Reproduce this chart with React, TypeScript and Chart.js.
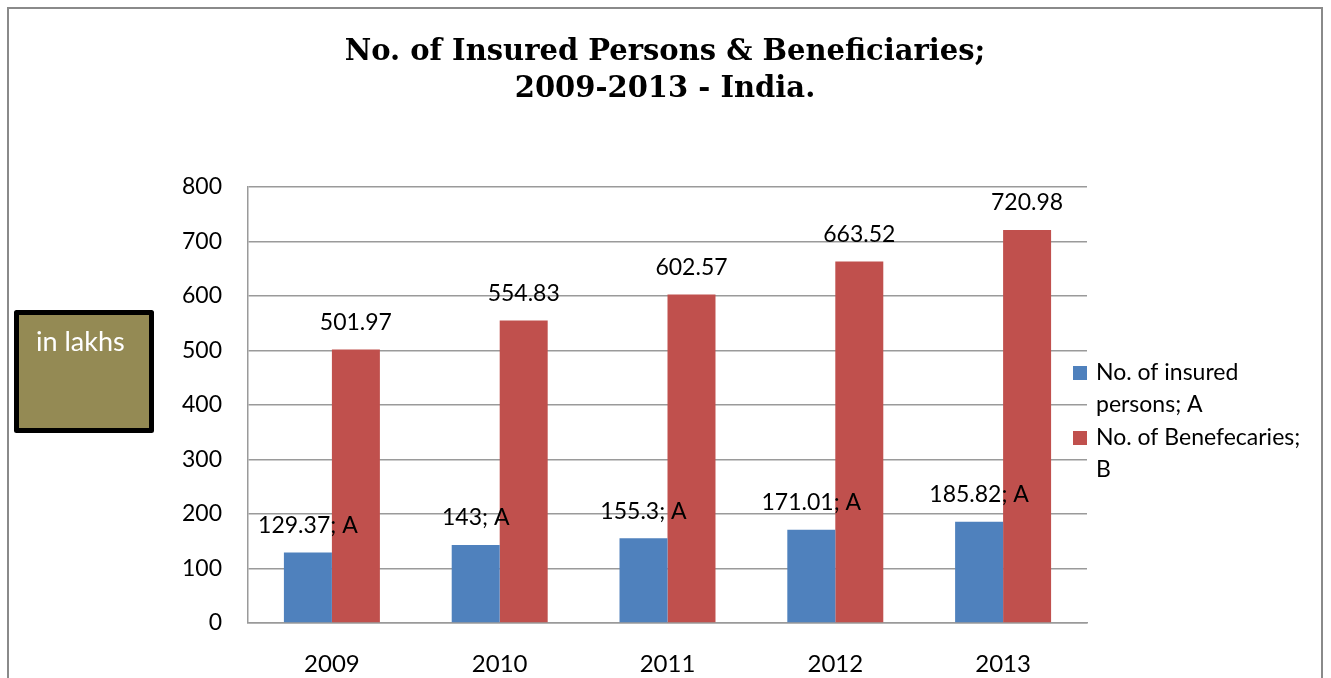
import React, { useEffect, useRef } from "react";
import { Chart, registerables } from "chart.js";

Chart.register(...registerables);

const categories = ["2009", "2010", "2011", "2012", "2013"];
const insuredPersons = [129.37, 143, 155.3, 171.01, 185.82];
const beneficiaries = [501.97, 554.83, 602.57, 663.52, 720.98];
const insuredLabels = ["129.37; A", "143; A", "155.3; A", "171.01; A", "185.82; A"];
const beneficiaryLabels = ["501.97", "554.83", "602.57", "663.52", "720.98"];
const yTicks = [0, 100, 200, 300, 400, 500, 600, 700, 800];
const titleLines = ["No. of Insured Persons & Beneficiaries;", "2009-2013 - India."];
const legendLines = [
  ["No. of insured", "persons; A"],
  ["No. of Benefecaries;", "B"],
];
const unitNote = "in lakhs";

const BLUE = "#4F81BD";
const RED = "#C0504D";
const FONT = "Lato, 'Open Sans', sans-serif";

const decorPlugin = {
  id: "decor",
  beforeDraw(chart: any) {
    const ctx = chart.ctx;
    ctx.save();
    ctx.fillStyle = "#ffffff";
    ctx.fillRect(0, 0, chart.width, chart.height);
    ctx.strokeStyle = "#8a8a8a";
    ctx.lineWidth = 2;
    ctx.strokeRect(8, 8, 1314, 720);
    ctx.restore();
  },
  afterDatasetsDraw(chart: any) {
    const ctx = chart.ctx;
    ctx.save();
    ctx.font = `23px ${FONT}`;
    ctx.fillStyle = "#000";
    ctx.textAlign = "center";
    ctx.textBaseline = "middle";
    const labelsets = [insuredLabels, beneficiaryLabels];
    chart.data.datasets.forEach((_: any, di: number) => {
      const meta = chart.getDatasetMeta(di);
      meta.data.forEach((bar: any, i: number) => {
        ctx.fillText(labelsets[di][i], bar.x, bar.y - 27);
      });
    });
    ctx.restore();
  },
  afterDraw(chart: any) {
    const ctx = chart.ctx;
    ctx.save();
    // title
    ctx.fillStyle = "#000";
    ctx.textAlign = "center";
    ctx.textBaseline = "alphabetic";
    ctx.font = "bold 29px 'DejaVu Serif', serif";
    ctx.fillText(titleLines[0], 665, 60);
    ctx.fillText(titleLines[1], 665, 97);

    // legend
    const colors = [BLUE, RED];
    const starts = [373, 438];
    ctx.font = `23px ${FONT}`;
    ctx.textAlign = "left";
    ctx.textBaseline = "middle";
    legendLines.forEach((lines, i) => {
      ctx.fillStyle = colors[i];
      ctx.fillRect(1073, starts[i] - 7, 14, 14);
      ctx.fillStyle = "#000";
      lines.forEach((ln, j) => {
        ctx.fillText(ln, 1096, starts[i] + j * 32);
      });
    });

    // unit box
    ctx.fillStyle = "#948A54";
    ctx.fillRect(17, 313, 134, 117);
    ctx.strokeStyle = "#000";
    ctx.lineWidth = 5;
    ctx.lineJoin = "round";
    ctx.strokeRect(16.5, 312.5, 135, 118);
    ctx.fillStyle = "#ffffff";
    ctx.font = `27px ${FONT}`;
    ctx.textAlign = "left";
    ctx.textBaseline = "alphabetic";
    ctx.fillText(unitNote, 36, 351);
    ctx.restore();
  },
};

export default function App() {
  const ref = useRef<HTMLCanvasElement | null>(null);
  useEffect(() => {
    if (!ref.current) return;
    const chart = new Chart(ref.current, {
      type: "bar",
      data: {
        labels: categories,
        datasets: [
          { label: "No. of insured persons; A", data: insuredPersons, backgroundColor: BLUE },
          { label: "No. of Benefecaries; B", data: beneficiaries, backgroundColor: RED },
        ],
      },
      options: {
        animation: false,
        responsive: false,
        devicePixelRatio: 1,
        layout: { padding: { left: 148, right: 244, top: 187, bottom: 5 } },
        datasets: { bar: { categoryPercentage: 0.572, barPercentage: 1 } },
        plugins: {
          legend: { display: false },
          title: { display: false },
          tooltip: { enabled: false },
        },
        scales: {
          x: {
            grid: { display: false, drawTicks: false },
            border: { display: true, color: "#9a9a9a", width: 1.5 },
            ticks: { padding: 27, color: "#000", font: { family: FONT, size: 24 } },
            afterFit: (s: any) => {
              s.height = 50;
            },
          },
          y: {
            min: 0,
            max: 800,
            afterBuildTicks: (s: any) => {
              s.ticks = yTicks.map((v) => ({ value: v }));
            },
            grid: { color: "#9a9a9a", lineWidth: 1.5, drawTicks: false },
            border: { display: true, color: "#9a9a9a", width: 1.5 },
            ticks: { padding: 26, color: "#000", font: { family: FONT, size: 23 } },
            afterFit: (s: any) => {
              s.width = 100;
            },
          },
        },
      },
      plugins: [decorPlugin],
    });
    return () => chart.destroy();
  }, []);
  return (
    <div style={{ position: "fixed", left: 0, top: 0, width: 1331, height: 678 }}>
      <canvas ref={ref} width={1331} height={678} style={{ display: "block" }} />
    </div>
  );
}
